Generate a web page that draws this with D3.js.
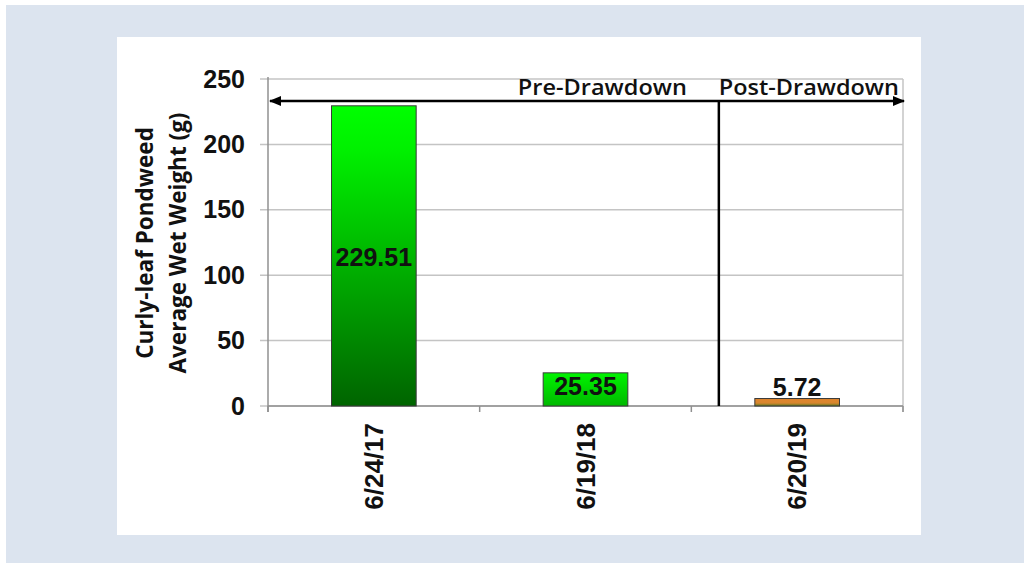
<!DOCTYPE html>
<html>
<head>
<meta charset="utf-8">
<script src="https://cdn.jsdelivr.net/npm/d3@7"></script>
<style>
  html, body { margin: 0; padding: 0; background: #fff; }
  svg { display: block; }
</style>
</head>
<body>
<div id="chart"></div>
<script>
const dates = ["6/24/17", "6/19/18", "6/20/19"];
const weights = [229.51, 25.35, 5.72];
const yTicks = [0, 50, 100, 150, 200, 250];
const yTitle = ["Curly-leaf Pondweed", "Average Wet Weight (g)"];
const periods = ["Pre-Drawdown", "Post-Drawdown"];

const width = 1024, height = 563;
const plot = {left: 268, right: 903, top: 79, bottom: 406};
const arial = "Liberation Sans, Arial, sans-serif";

const svg = d3.select("#chart")
  .append("svg")
  .attr("width", width)
  .attr("height", height);

// page background + white card
svg.append("rect").attr("x", 6).attr("y", 5).attr("width", width - 6).attr("height", height - 5).attr("fill", "#dce4ef");
svg.append("rect").attr("x", 117).attr("y", 37).attr("width", 804).attr("height", 498).attr("fill", "#fff");

const x = d3.scaleBand()
  .domain(dates)
  .range([plot.left, plot.right])
  .paddingInner(0.6)
  .paddingOuter(0.3);

const y = d3.scaleLinear()
  .domain([0, 250])
  .range([plot.bottom, plot.top]);

// gradients
const defs = svg.append("defs");
const grads = [
  ["g0", [[0, "#00ff00"], [0.15, "#00f000"], [1, "#006400"]]],
  ["g1", [[0, "#00f400"], [1, "#00b800"]]],
  ["g2", [[0, "#e0852c"], [0.6, "#d8862e"], [1, "#5d7a20"]]],
];
grads.forEach(([id, stops]) => {
  const g = defs.append("linearGradient").attr("id", id)
    .attr("x1", 0).attr("y1", 0).attr("x2", 0).attr("y2", 1);
  stops.forEach(([o, c]) => g.append("stop").attr("offset", o).attr("stop-color", c));
});

// gridlines
svg.append("g")
  .selectAll("line")
  .data(yTicks)
  .join("line")
  .attr("x1", plot.left - 8)
  .attr("x2", plot.right)
  .attr("y1", d => y(d))
  .attr("y2", d => y(d))
  .attr("stroke", "#c4c4c4")
  .attr("stroke-width", 1.5);

// right border of plot
svg.append("line")
  .attr("x1", plot.right).attr("x2", plot.right)
  .attr("y1", plot.top).attr("y2", plot.bottom + 6)
  .attr("stroke", "#c4c4c4").attr("stroke-width", 1.5);

// y axis
const yAxis = svg.append("g")
  .attr("transform", `translate(${plot.left},0)`)
  .call(d3.axisLeft(y).tickValues(yTicks).tickSize(0).tickPadding(23));
yAxis.select(".domain").attr("stroke", "#909090").attr("stroke-width", 1.5)
  .attr("d", `M0,${plot.top - 2}V${plot.bottom + 6}`);
yAxis.selectAll("text")
  .attr("font-family", arial)
  .attr("font-size", 25).attr("font-weight", "bold").attr("fill", "#111");

// x axis: ticks at category boundaries
const step = x.step();
const bounds = d3.range(dates.length + 1).map(i => plot.left + i * step);
svg.append("line")
  .attr("x1", plot.left).attr("x2", plot.right)
  .attr("y1", plot.bottom).attr("y2", plot.bottom)
  .attr("stroke", "#909090").attr("stroke-width", 1.5);
svg.append("g").selectAll("line")
  .data(bounds)
  .join("line")
  .attr("x1", d => d).attr("x2", d => d)
  .attr("y1", plot.bottom).attr("y2", plot.bottom + 6)
  .attr("stroke", "#909090").attr("stroke-width", 1.5);

svg.append("g").selectAll("text")
  .data(dates)
  .join("text")
  .attr("transform", d => `translate(${x(d) + x.bandwidth() / 2 + 9},${plot.bottom + 17}) rotate(-90)`)
  .attr("text-anchor", "end")
  .attr("font-family", arial)
  .attr("font-size", 26).attr("font-weight", "bold").attr("fill", "#111")
  .text(d => d);

// bars
svg.append("g").selectAll("rect")
  .data(weights)
  .join("rect")
  .attr("x", (d, i) => x(dates[i]))
  .attr("width", x.bandwidth())
  .attr("y", d => y(d))
  .attr("height", d => y(0) - y(d))
  .attr("fill", (d, i) => `url(#g${i})`)
  .attr("stroke", "#3a3a3a")
  .attr("stroke-width", 1);

// value labels
const labelY = [
  (y(weights[0]) + y(0)) / 2 + 10,
  (y(weights[1]) + y(0)) / 2 + 6,
  y(weights[2]) - 3,
];
svg.append("g").selectAll("text")
  .data(weights)
  .join("text")
  .attr("x", (d, i) => x(dates[i]) + x.bandwidth() / 2)
  .attr("y", (d, i) => labelY[i])
  .attr("text-anchor", "middle")
  .attr("font-family", arial)
  .attr("font-size", 25).attr("font-weight", "bold").attr("fill", "#111")
  .text(d => d.toFixed(2));

// y title
svg.append("g").selectAll("text")
  .data(yTitle)
  .join("text")
  .attr("transform", (d, i) => `translate(${153 + i * 33},243) rotate(-90)`)
  .attr("text-anchor", "middle")
  .attr("font-family", "'Open Sans', sans-serif")
  .attr("font-size", 22.5).attr("font-weight", "bold").attr("fill", "#111")
  .text(d => d);

// drawdown arrow + divider
const arrowY = 101;
const divX = bounds[2] + 0.13 * step;
defs.append("marker").attr("id", "ah")
  .attr("viewBox", "0 0 10 10").attr("refX", 9).attr("refY", 5)
  .attr("markerWidth", 5).attr("markerHeight", 5).attr("orient", "auto-start-reverse")
  .append("path").attr("d", "M0,1L10,5L0,9Z").attr("fill", "#000");
svg.append("line")
  .attr("x1", plot.left + 2).attr("x2", plot.right + 1)
  .attr("y1", arrowY).attr("y2", arrowY)
  .attr("stroke", "#000").attr("stroke-width", 2.5)
  .attr("marker-start", "url(#ah)").attr("marker-end", "url(#ah)");
svg.append("line")
  .attr("x1", divX).attr("x2", divX)
  .attr("y1", arrowY).attr("y2", plot.bottom)
  .attr("stroke", "#000").attr("stroke-width", 2.5);

const periodLen = [169, 180];
svg.append("g").selectAll("text")
  .data(periods)
  .join("text")
  .attr("x", (d, i) => i === 0 ? divX - 32 - periodLen[0] : divX)
  .attr("y", arrowY - 6)
  .attr("textLength", (d, i) => periodLen[i])
  .attr("lengthAdjust", "spacingAndGlyphs")
  .attr("font-family", "'Open Sans', sans-serif")
  .attr("font-size", 22).attr("font-weight", 600).attr("fill", "#111")
  .text(d => d);
</script>
</body>
</html>
